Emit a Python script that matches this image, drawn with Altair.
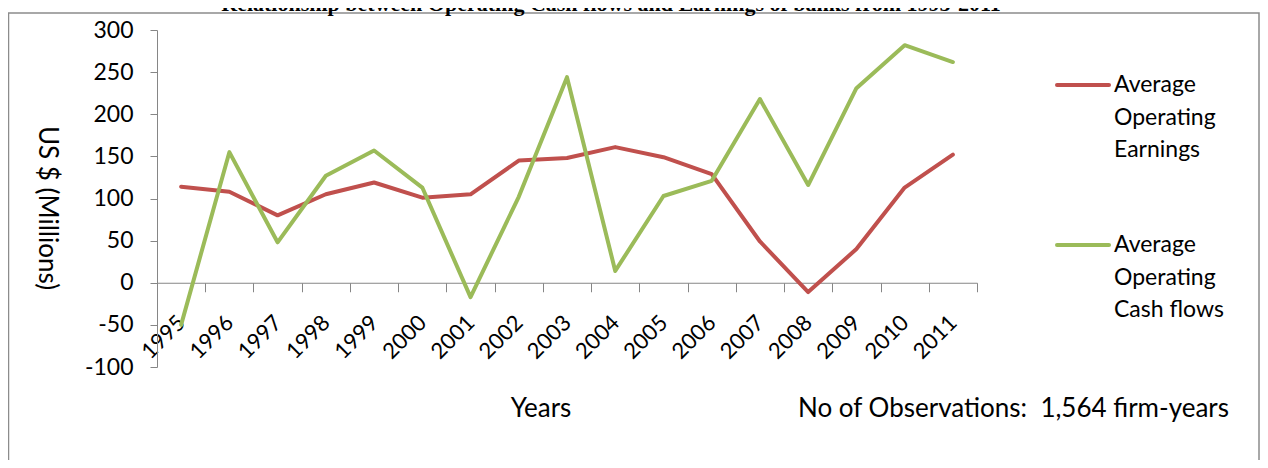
import altair as alt
import pandas as pd

years = ["1995", "1996", "1997", "1998", "1999", "2000", "2001", "2002", "2003",
         "2004", "2005", "2006", "2007", "2008", "2009", "2010", "2011"]
earnings = [114, 108, 80, 105, 119, 101, 105, 145, 148, 161, 149, 129, 49, -11, 40, 113, 152]
cashflows = [-50, 155, 48, 127, 157, 113, -17, 102, 244, 14, 103, 121, 218, 116, 231, 282, 262]
series_names = ["Average Operating Earnings", "Average Operating Cash flows"]
series_colors = ["#C0504D", "#9BBB59"]
y_ticks = [-100, -50, 0, 50, 100, 150, 200, 250, 300]

title_text = "Relationship between Operating Cash flows and Earnings of banks from 1995-2011"
x_title = "Years"
y_title = "US $ (Millions)"
note_text = "No of Observations:\u00a0 1,564 firm-years"
legend_lines = [["Average", "Operating", "Earnings"], ["Average", "Operating", "Cash flows"]]

rows = []
for yr, e, c in zip(years, earnings, cashflows):
    rows.append({"Year": yr, "Series": series_names[0], "Value": e})
    rows.append({"Year": yr, "Series": series_names[1], "Value": c})
df = pd.DataFrame(rows)
one = pd.DataFrame({"k": [0]})

FONT = "Lato"
AX = "#868686"

lines = alt.Chart(df).mark_line(strokeWidth=4, strokeJoin="round", strokeCap="round").encode(
    x=alt.X("Year:N", sort=years, bandPosition=0.5,
            scale=alt.Scale(type="band", paddingInner=0, paddingOuter=0),
            axis=alt.Axis(title=None, offset=-84.25, tickBand="extent", tickSize=9,
                          tickColor=AX, domainColor=AX, labelAngle=315, labelAlign="right",
                          labelBaseline="middle", labelPadding=27, labelFont=FONT,
                          labelFontSize=22, labelColor="black", grid=False)),
    y=alt.Y("Value:Q", scale=alt.Scale(domain=[-100, 300], nice=False, zero=False),
            axis=alt.Axis(title=None, values=y_ticks, tickSize=7, tickColor=AX, domainColor=AX,
                          labelExpr="toString(datum.value)",
                          labelFont=FONT, labelFontSize=23, labelColor="black",
                          labelPadding=17, grid=False)),
    color=alt.Color("Series:N", scale=alt.Scale(domain=series_names, range=series_colors),
                    legend=None),
    detail="Series:N",
)

frame = alt.Chart(one).mark_rect(fill=None, stroke="#8c8c8c", strokeWidth=1.5).encode(
    x=alt.value(-148.5), x2=alt.value(1102), y=alt.value(-17), y2=alt.value(500))

title = alt.Chart(one).mark_text(text=title_text, font="Liberation Serif", fontWeight="bold",
                                 fontSize=22, align="center", baseline="alphabetic",
                                 color="black").encode(x=alt.value(454), y=alt.value(-19))

ytitle = alt.Chart(one).mark_text(text=y_title, font=FONT, fontSize=26, angle=90,
                                  align="center", baseline="middle", color="black").encode(
    x=alt.value(-110), y=alt.value(178))

xtitle = alt.Chart(one).mark_text(text=x_title, font=FONT, fontSize=26, align="center",
                                  baseline="middle", color="black").encode(
    x=alt.value(384), y=alt.value(379))

note = alt.Chart(one).mark_text(text=note_text, font=FONT, fontSize=26, align="left",
                                baseline="middle", color="black").encode(
    x=alt.value(641), y=alt.value(379))

leg_layers = []
for i, (col, txt, yc) in enumerate(zip(series_colors, legend_lines, [55, 215])):
    leg_layers.append(alt.Chart(one).mark_rule(color=col, strokeWidth=4, strokeCap="round").encode(
        x=alt.value(900), x2=alt.value(952), y=alt.value(yc)))
    leg_layers.append(alt.Chart(one).mark_text(text=txt, font=FONT, fontSize=23, lineHeight=32.5,
                                               align="left", baseline="middle", color="black").encode(
        x=alt.value(957), y=alt.value(yc)))

chart = alt.layer(frame, title, lines, ytitle, xtitle, note, *leg_layers).properties(
    width=820, height=337,
    padding={"left": 149, "top": 22, "right": 283, "bottom": 93},
    autosize=alt.AutoSizeParams(type="none"),
).configure_view(stroke=None)

chart.save("out.html", embed_options={"renderer": "svg", "actions": False})
